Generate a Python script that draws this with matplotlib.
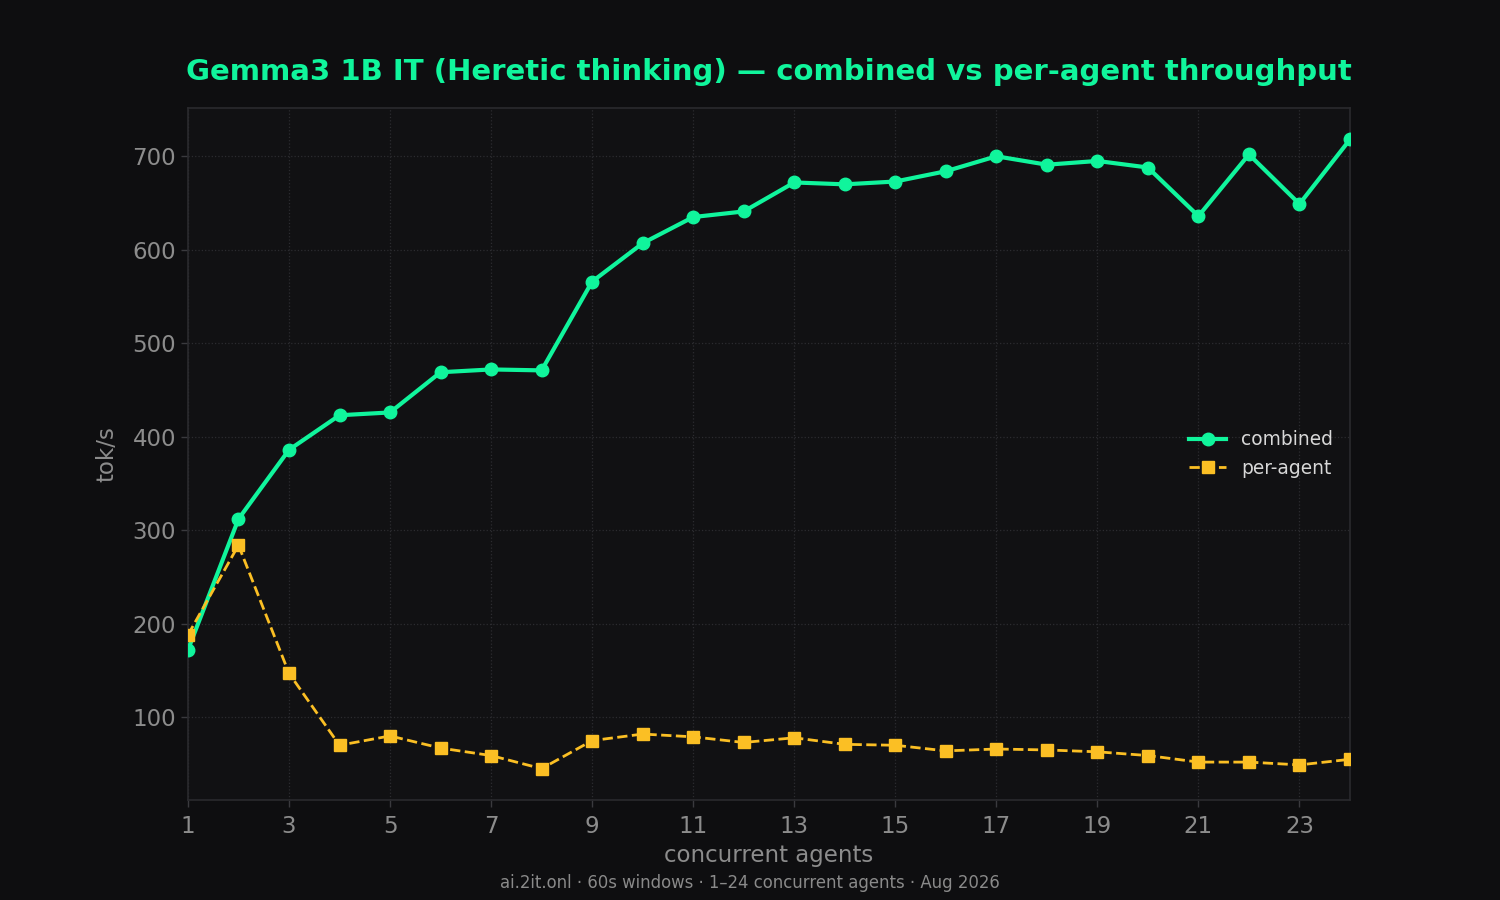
import matplotlib
matplotlib.use('Agg')
import matplotlib.pyplot as plt

# --- data ---
agents = list(range(1, 25))
combined = [172, 312, 386, 423, 426, 469, 472, 471, 566, 607, 635, 641,
            672, 670, 673, 684, 700, 691, 695, 688, 636, 702, 649, 718]
per_agent = [188, 284, 147, 70, 80, 67, 59, 45, 75, 82, 79, 73,
             78, 71, 70, 64, 66, 65, 63, 59, 52, 52, 49, 55]
xticks = list(range(1, 24, 2))

# --- colours ---
BG = '#0e0e10'
AX_BG = '#111113'
GREEN = '#10f59c'
AMBER = '#fbbf24'
MUTED = '#8c8c8c'
EDGE = '#2a2a2e'

plt.rcParams['font.family'] = ['DejaVu Sans']

fig, ax = plt.subplots(figsize=(15, 9), dpi=100)
fig.patch.set_facecolor(BG)
ax.set_facecolor(AX_BG)
fig.subplots_adjust(left=0.1253, right=0.9, top=0.88, bottom=0.111)

ax.plot(agents, combined, color=GREEN, lw=3, marker='o', ms=9,
        label='combined', zorder=3)
ax.plot(agents, per_agent, color=AMBER, lw=2, ls='--', marker='s', ms=9,
        label='per-agent', zorder=3)

ax.set_xlim(1, 24)
ax.set_xticks(xticks)
ax.grid(True, color='#2c2c30', ls=':', lw=0.9)
ax.set_axisbelow(True)

for s in ax.spines.values():
    s.set_color(EDGE)
    s.set_linewidth(1.2)
ax.tick_params(colors=MUTED, labelsize=16.5, length=5, width=1, color='#3a3a3e')
ax.tick_params(axis='x', pad=6)

ax.set_xlabel('concurrent agents', color=MUTED, fontsize=16.5, labelpad=4)
ax.set_ylabel('tok/s', color=MUTED, fontsize=16.5, labelpad=10)
ax.set_title('Gemma3 1B IT (Heretic thinking) \u2014 combined vs per-agent throughput',
             color=GREEN, fontsize=21, fontweight='bold', pad=20)

leg = ax.legend(loc='center right', frameon=False, fontsize=13.4,
                labelcolor='#d8d8d8', bbox_to_anchor=(1.0, 0.5))

fig.text(0.5, 0.0135, 'ai.2it.onl \u00b7 60s windows \u00b7 1\u201324 concurrent agents \u00b7 Aug 2026',
         ha='center', color='#8a8a8a', fontsize=11.9)

plt.savefig('out.png', facecolor=BG)
